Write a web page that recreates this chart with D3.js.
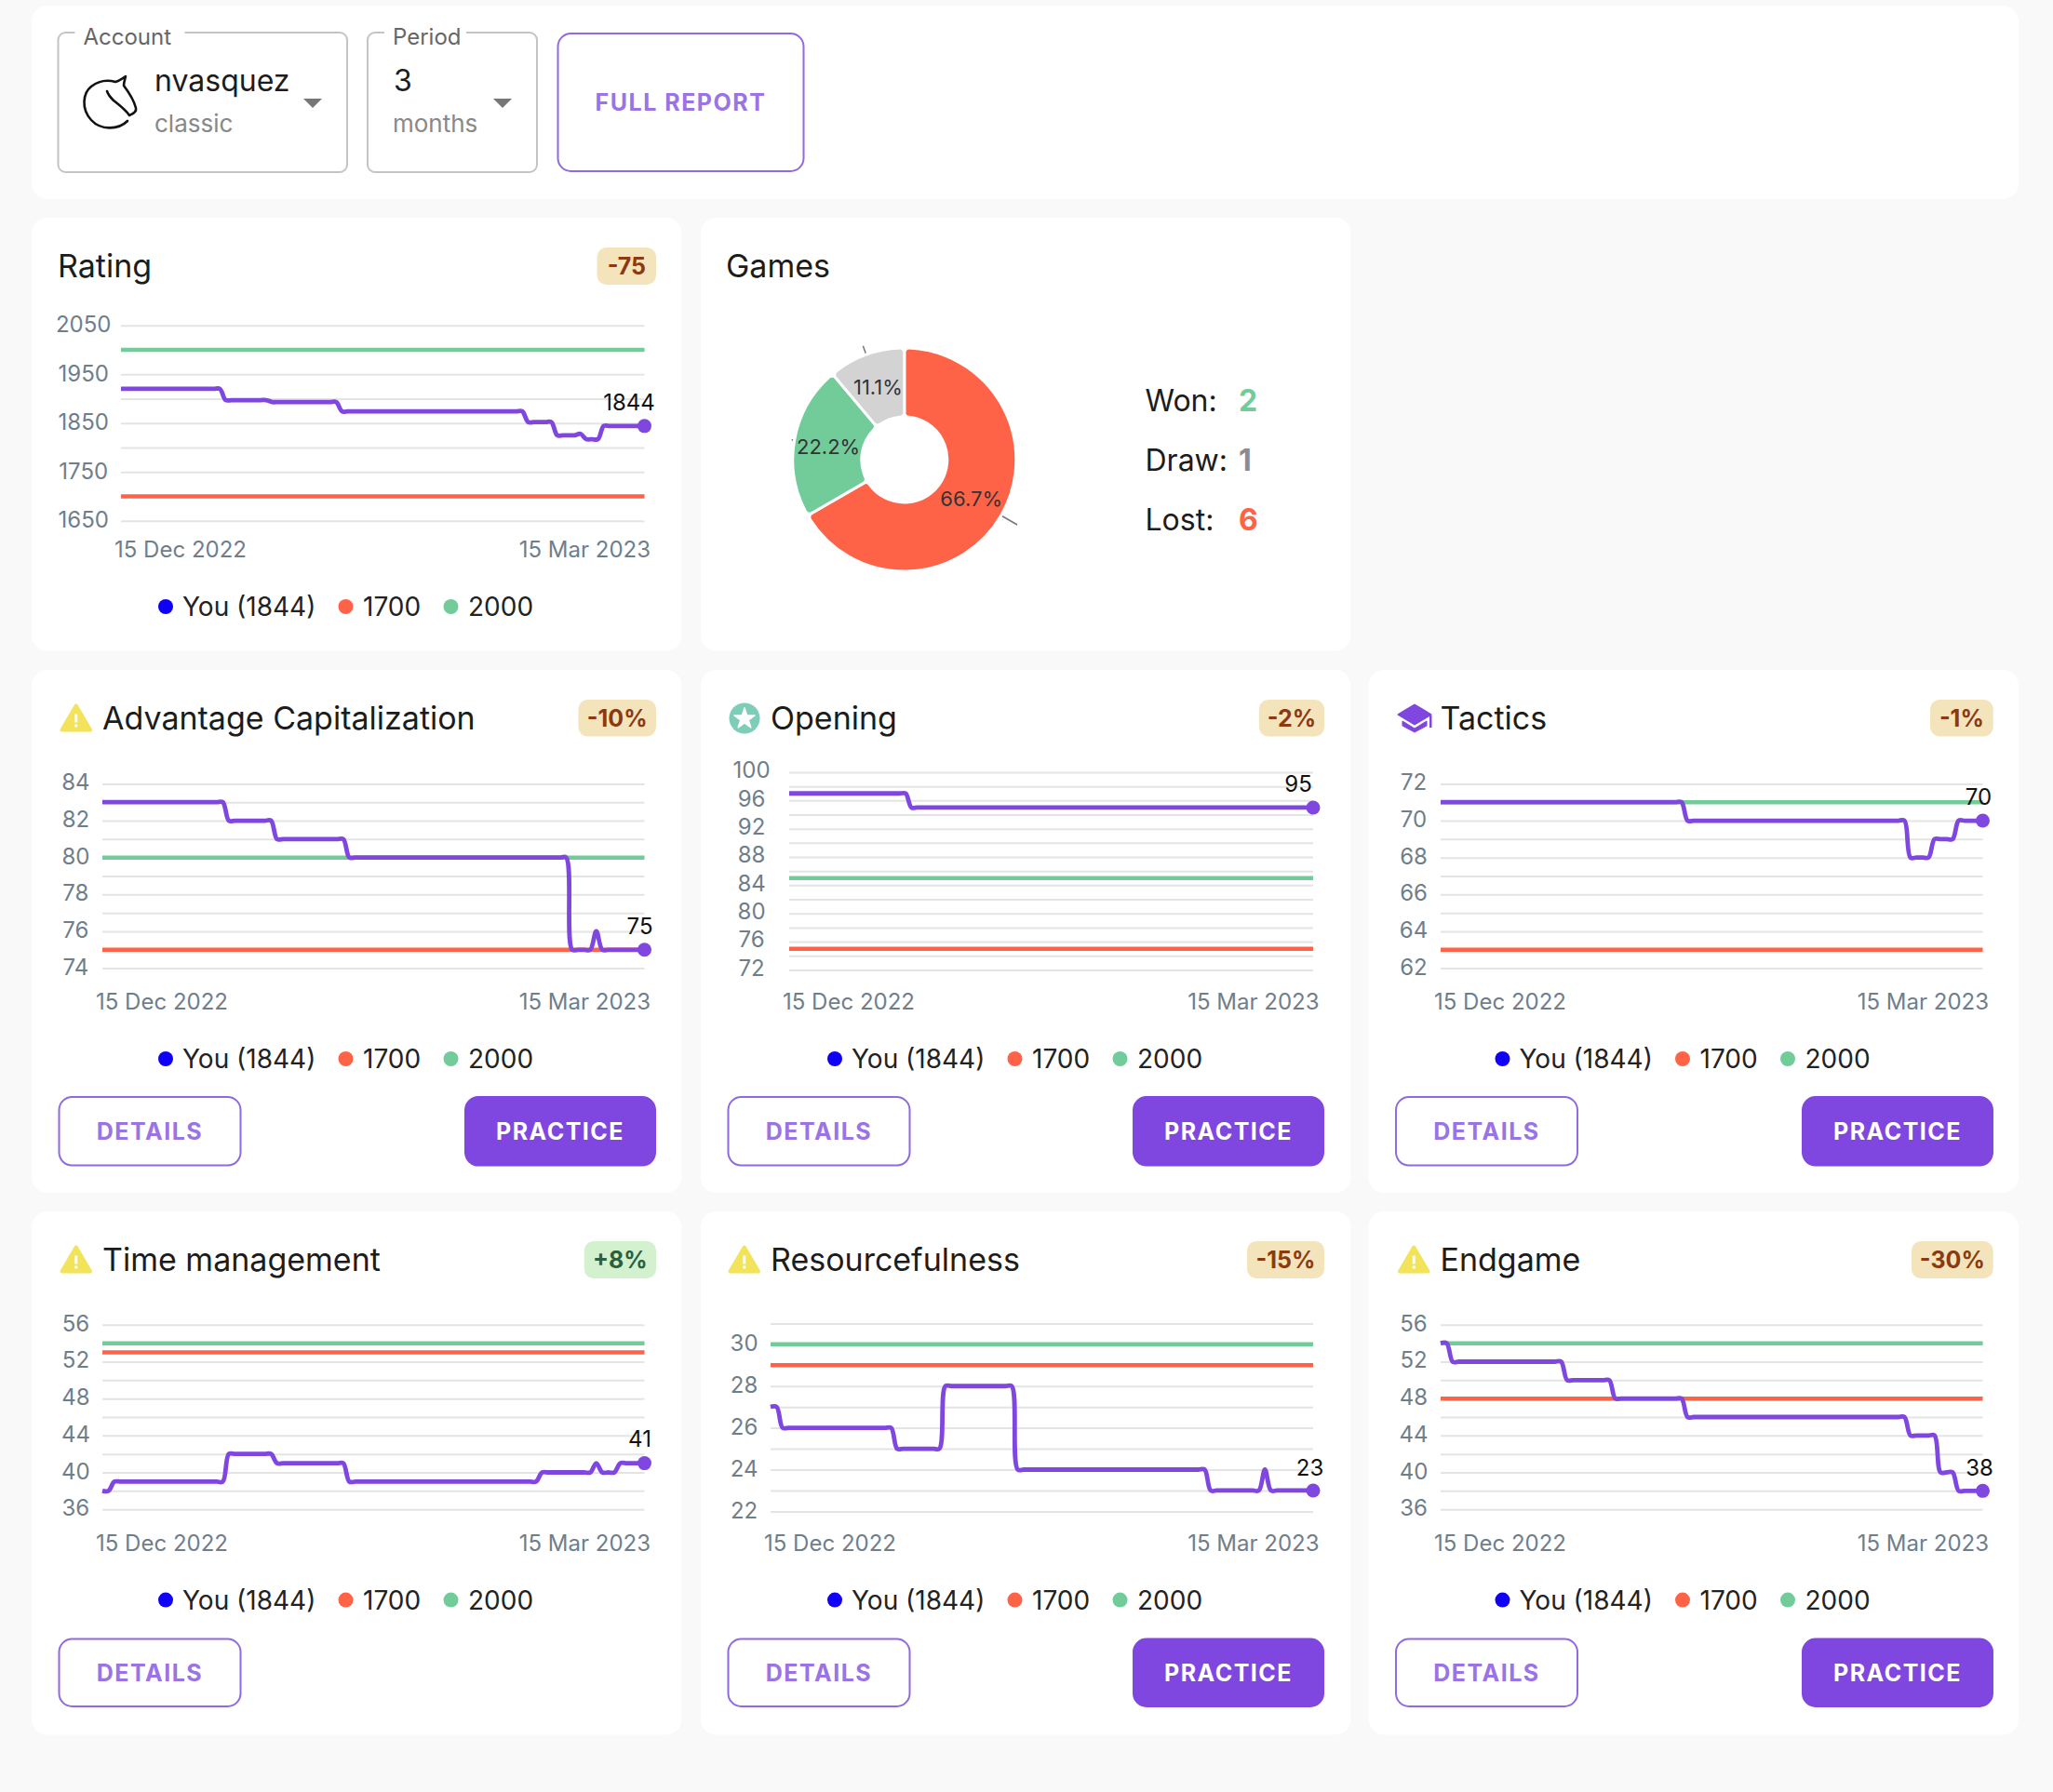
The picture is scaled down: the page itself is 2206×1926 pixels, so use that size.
<!DOCTYPE html>
<html><head><meta charset="utf-8">
<script src="https://cdn.jsdelivr.net/npm/d3@7/dist/d3.min.js"></script>
<style>
html,body{margin:0;padding:0;background:#f9f9f9}
svg{display:block}
text{font-family:Inter,"Noto Sans",sans-serif}
</style></head><body><svg id="c" width="2206" height="1926"></svg>
<script>
// ---------- data ----------
const startDate = "2022-12-15";
const endDate = "2023-03-15";
const ratingValues = [
1920,1920,1920,1920,1920,1920,1920,1920,1920,1920,
1920,1920,1920,1920,1920,1920,1920,1920,1897,1897,
1897,1897,1897,1897,1897,1897,1893,1893,1893,1893,
1893,1893,1893,1893,1893,1893,1893,1893,1874,1874,
1874,1874,1874,1874,1874,1874,1874,1874,1874,1874,
1874,1874,1874,1874,1874,1874,1874,1874,1874,1874,
1874,1874,1874,1874,1874,1874,1874,1874,1874,1874,
1852,1852,1852,1852,1852,1825,1825,1825,1825,1828,
1817,1817,1817,1844,1844,1844,1844,1844,1844,1844,
1844];
const advantageValues = [
83,83,83,83,83,83,83,83,83,83,
83,83,83,83,83,83,83,83,83,83,
83,82,82,82,82,82,82,82,82,81,
81,81,81,81,81,81,81,81,81,81,
81,80,80,80,80,80,80,80,80,80,
80,80,80,80,80,80,80,80,80,80,
80,80,80,80,80,80,80,80,80,80,
80,80,80,80,80,80,80,80,75,75,
75,75,76,75,75,75,75,75,75,75,
75];
const openingValues = [
97,97,97,97,97,97,97,97,97,97,
97,97,97,97,97,97,97,97,97,97,
97,95,95,95,95,95,95,95,95,95,
95,95,95,95,95,95,95,95,95,95,
95,95,95,95,95,95,95,95,95,95,
95,95,95,95,95,95,95,95,95,95,
95,95,95,95,95,95,95,95,95,95,
95,95,95,95,95,95,95,95,95,95,
95,95,95,95,95,95,95,95,95,95,
95];
const tacticsValues = [
71,71,71,71,71,71,71,71,71,71,
71,71,71,71,71,71,71,71,71,71,
71,71,71,71,71,71,71,71,71,71,
71,71,71,71,71,71,71,71,71,71,
71,70,70,70,70,70,70,70,70,70,
70,70,70,70,70,70,70,70,70,70,
70,70,70,70,70,70,70,70,70,70,
70,70,70,70,70,70,70,70,68,68,
68,68,69,69,69,69,70,70,70,70,
70];
const timeValues = [
38,38,39,39,39,39,39,39,39,39,
39,39,39,39,39,39,39,39,39,39,
39,42,42,42,42,42,42,42,42,41,
41,41,41,41,41,41,41,41,41,41,
41,39,39,39,39,39,39,39,39,39,
39,39,39,39,39,39,39,39,39,39,
39,39,39,39,39,39,39,39,39,39,
39,39,39,40,40,40,40,40,40,40,
40,40,41,40,40,40,41,41,41,41,
41];
const resourceValues = [
27,27,26,26,26,26,26,26,26,26,
26,26,26,26,26,26,26,26,26,26,
26,25,25,25,25,25,25,25,25,28,
28,28,28,28,28,28,28,28,28,28,
28,24,24,24,24,24,24,24,24,24,
24,24,24,24,24,24,24,24,24,24,
24,24,24,24,24,24,24,24,24,24,
24,24,24,23,23,23,23,23,23,23,
23,23,24,23,23,23,23,23,23,23,
23];
const endgameValues = [
54,54,52,52,52,52,52,52,52,52,
52,52,52,52,52,52,52,52,52,52,
52,50,50,50,50,50,50,50,50,48,
48,48,48,48,48,48,48,48,48,48,
48,46,46,46,46,46,46,46,46,46,
46,46,46,46,46,46,46,46,46,46,
46,46,46,46,46,46,46,46,46,46,
46,46,46,46,46,46,46,46,44,44,
44,44,44,40,40,40,38,38,38,38,
38];
const panelTitles = ["Rating","Advantage Capitalization","Opening","Tactics","Time management","Resourcefulness","Endgame"];
const panelBadges = ["-75","-10%","-2%","-1%","+8%","-15%","-30%"];
const red1700 = [1700,75,75,63,53,29,48];
const green2000 = [2000,80,85,71,54,30,54];
const gridTicks = [
 [2050,2000,1950,1900,1850,1800,1750,1700,1650],
 [84,83,82,81,80,79,78,77,76,75,74],
 [100,98,96,94,92,90,88,86,84,82,80,78,76,74,72],
 [72,71,70,69,68,67,66,65,64,63,62],
 [56,54,52,50,48,46,44,42,40,38,36],
 [31,30,29,28,27,26,25,24,23,22],
 [56,54,52,50,48,46,44,42,40,38,36]];
const labelTicks = [
 [2050,1950,1850,1750,1650],
 [84,82,80,78,76,74],
 [100,96,92,88,84,80,76,72],
 [72,70,68,66,64,62],
 [56,52,48,44,40,36],
 [30,28,26,24,22],
 [56,52,48,44,40,36]];
const legendLabels = ["You (1844)","1700","2000"];
const gameLabels = ["Lost","Won","Draw"];
const gameCounts = [6,2,1];
const summaryLabels = ["Won:","Draw:","Lost:"];
const summaryCounts = [2,1,6];

// ---------- styles / layout ----------
const PURPLE="#7f47df", LIGHT="#9a73e5", RED="#ff6347", GREEN="#72cc9a", GREY="#d3d3d3";
const legendColors=["#1000f5",RED,GREEN];
const seriesByPanel=[ratingValues,advantageValues,openingValues,tacticsValues,timeValues,resourceValues,endgameValues];
const cols=[34,753,1470.5], cardW=698.5;
const practiceX=[[499,705],[1217,1423],[1936,2142]];
const layout=[
 {card:[0,234,465.5],l:130,r:692.5,t:349.7,b:559.7,lx:40.3,ax:590,leg:652,shift:16.5,icon:null,tx:62,base:298,badgeX:641.6,badgeY:266,badgeH:40,drop:26,ly:0},
 {card:[0,720,562],l:110,r:692.5,t:842.4,b:1040.6,lx:28.6,ax:1076,leg:1138,shift:5,icon:"warn",tx:110,base:783.5,badgeX:621.4,badgeY:752,badgeH:39.5,btn:[1178,1253.6],practice:true,drop:25,ly:-0.5},
 {card:[1,720,562],l:848,r:1411,t:830,b:1042.4,lx:40.4,ax:1076,leg:1138,shift:16,icon:"star",tx:828,base:783.5,badgeX:1352.8,badgeY:752,badgeH:39.5,btn:[1178,1253.6],practice:true,drop:25.5,ly:-1.2},
 {card:[2,720,562],l:1548,r:2130.5,t:842.4,b:1040.6,lx:29,ax:1076,leg:1138,shift:4.5,icon:"cap",tx:1547.5,base:783.5,badgeX:2074,badgeY:752,badgeH:39.5,btn:[1178,1253.6],practice:true,drop:26,ly:-0.5},
 {card:[0,1302,562.5],l:110,r:692.5,t:1423.8,b:1622.2,lx:28.6,ax:1658,leg:1719.6,shift:5,icon:"warn",tx:110,base:1365.5,badgeX:627.8,badgeY:1334,badgeH:40,btn:[1760.5,1835],practice:false,drop:26,ly:-0.5},
 {card:[1,1302,562.5],l:828,r:1411,t:1422.4,b:1624.4,lx:28.4,ax:1658,leg:1719.6,shift:3.5,icon:"warn",tx:828,base:1365.5,badgeX:1340,badgeY:1334,badgeH:40,btn:[1760.5,1835],practice:true,drop:25,ly:0},
 {card:[2,1302,562.5],l:1548,r:2130.5,t:1423.8,b:1622.2,lx:29,ax:1658,leg:1719.6,shift:3.5,icon:"warn",tx:1547.5,base:1365.5,badgeX:2054,badgeY:1334,badgeH:40,btn:[1760.5,1835],practice:true,drop:25,ly:-0.5}
];
const svg=d3.select("#c");
const parse=d3.utcParse("%Y-%m-%d");
const fmt=d3.utcFormat("%-d %b %Y");
const dates=ratingValues.map((_,i)=>d3.utcDay.offset(parse(startDate),i));

function T(g,s,x,y,size,fill,opt={}){
  return g.append("text").attr("x",x).attr("y",y).attr("font-size",size).attr("fill",fill)
   .attr("font-weight",opt.w||400).attr("text-anchor",opt.a||"start")
   .attr("letter-spacing",opt.ls||0).text(s);
}
function card(x,y,w,h){svg.append("rect").attr("x",x).attr("y",y).attr("width",w).attr("height",h).attr("rx",17).attr("fill","#fff");}
function button(x0,x1,y0,y1,label,solid,size){
  svg.append("rect").attr("x",x0+1).attr("y",y0+1).attr("width",x1-x0-2).attr("height",y1-y0-2).attr("rx",14)
   .attr("fill",solid?PURPLE:"#fff").attr("stroke",solid?PURPLE:"#8f6ae0").attr("stroke-width",2);
  T(svg,label,(x0+x1)/2,(y0+y1)/2+9,size||25,solid?"#fff":LIGHT,{w:700,a:"middle",ls:1.5});
}
function warn(x0,x1,y0,y1){
  const g=svg.append("g");
  const m=(x0+x1)/2;
  g.append("path").attr("d",`M${m},${y0+2}L${x1-2},${y1-2}L${x0+2},${y1-2}Z`).attr("fill","#f2e35a").attr("stroke","#f2e35a").attr("stroke-width",4).attr("stroke-linejoin","round");
  g.append("rect").attr("x",m-1.5).attr("y",y0+11).attr("width",3).attr("height",9).attr("fill","#fff").attr("opacity",.9);
  g.append("rect").attr("x",m-1.5).attr("y",y0+22).attr("width",3).attr("height",3).attr("fill","#fff").attr("opacity",.9);
}
function star(cx,cy){
  svg.append("ellipse").attr("cx",cx).attr("cy",cy).attr("rx",16.5).attr("ry",16.5).attr("fill","#7ecdb9");
  svg.append("path").attr("transform",`translate(${cx},${cy+.5})`).attr("d",d3.symbol(d3.symbolStar,150)()).attr("fill","#fff").attr("stroke","#fff").attr("stroke-width",1.5).attr("stroke-linejoin","round");
}
function cap(){
  svg.append("path").attr("d","M1520,757.5 L1537.5,768 L1520,778.5 L1502.5,768 Z").attr("fill",PURPLE).attr("stroke",PURPLE).attr("stroke-width",2).attr("stroke-linejoin","round");
  svg.append("path").attr("d","M1507,775 L1520,783 L1533,775 L1533,780 L1520,787 L1507,780 Z").attr("fill",PURPLE).attr("stroke",PURPLE).attr("stroke-linejoin","round");
  svg.append("rect").attr("x",1536).attr("y",769).attr("width",2.5).attr("height",13).attr("fill",PURPLE);
}

// ---------- top card ----------
card(34,6,2135,208);
function selectBox(x0,x1,label,labelW){
  svg.append("rect").attr("x",x0).attr("y",35).attr("width",x1-x0).attr("height",150).attr("rx",8).attr("fill","#fff").attr("stroke","#c4c4c4").attr("stroke-width",2);
  svg.append("rect").attr("x",x0+18).attr("y",30).attr("width",labelW).attr("height",10).attr("fill","#fff");
  T(svg,label,x0+27,48,24,"#666");
}
selectBox(62.5,373,"Account",118);
selectBox(395,577,"Period",88);
T(svg,"nvasquez",166,98,32,"#1c1c1c");
T(svg,"classic",166,142,26,"#888");
T(svg,"3",423,98,32,"#1c1c1c");
T(svg,"months",422,142,26,"#888");
[[336],[540]].forEach(([cx])=>svg.append("path").attr("d",`M${cx-10},106L${cx+10},106L${cx},116Z`).attr("fill","#777"));
svg.append("path").attr("d","M137,130 C127,140 108,140 98,129 C87,117 89,100 98,93 C107,86 117,86 124,88 C128,87 131,85 135,82 C134,86 133,89 133,92 C139,100 144,108 146,116 C147,120 144,122 139,124 C135,118 127,112 122,108 C118,104 116,101 115,98")
  .attr("fill","none").attr("stroke","#111").attr("stroke-width",2.6).attr("stroke-linejoin","round").attr("stroke-linecap","round");
button(598.5,864.5,35,185,"FULL REPORT",false,25);

// ---------- games card ----------
card(753,234,698.5,465.5);
T(svg,"Games",780,298,34,"#1c1c1c");
const pieC=[971.8,494], R=120, r0=46;
const pie=d3.pie().sort(null).value(d=>d);
const arcGen=d3.arc().innerRadius(r0).outerRadius(R).cornerRadius(5);
const gamesG=svg.append("g").attr("transform",`translate(${pieC})`);
const slices=pie(gameCounts);
const sliceColors=[RED,GREEN,GREY];
const leaderLen=[20,3,10];
slices.forEach((s,i)=>{
  const a=(s.startAngle+s.endAngle)/2;
  gamesG.append("line").attr("x1",Math.sin(a)*R).attr("y1",-Math.cos(a)*R)
   .attr("x2",Math.sin(a)*(R+leaderLen[i])).attr("y2",-Math.cos(a)*(R+leaderLen[i]))
   .attr("stroke","#777").attr("stroke-width",1.5);
});
gamesG.selectAll("path.s").data(slices).join("path").attr("class","s").attr("d",arcGen)
  .attr("fill",(d,i)=>sliceColors[i]).attr("stroke","#fff").attr("stroke-width",3);
slices.forEach(s=>{
  const [x,y]=d3.arc().innerRadius(r0).outerRadius(R).centroid(s);
  T(gamesG,(s.value/d3.sum(gameCounts)*100).toFixed(1)+"%",x,y+8,22,"#333",{a:"middle"});
});
const sumCol=[GREEN,"#8c8c8c",RED];
summaryLabels.forEach((s,i)=>{
  const y=442+64*i;
  T(svg,s,1230.5,y,32,"#1c1c1c");
  T(svg,summaryCounts[i],1331,y,32,sumCol[i],{w:700});
});

// ---------- chart cards ----------
const lineCurve=d3.curveCatmullRom.alpha(0.5);
layout.forEach((L,i)=>{
  const cx=cols[L.card[0]];
  card(cx,L.card[1],cardW,L.card[2]);
  // title and icon
  T(svg,panelTitles[i],L.tx,L.base,34,"#1c1c1c");
  if(L.icon==="warn"){const x0=L.tx-45.5;warn(x0,x0+34.5,L.base-27,L.base+3);}
  if(L.icon==="star")star(800,772);
  if(L.icon==="cap")cap();
  // badge
  const neg=panelBadges[i][0]==="-";
  const bx1=[705,1423,2141.7][L.card[0]];
  svg.append("rect").attr("x",L.badgeX).attr("y",L.badgeY).attr("width",bx1-L.badgeX).attr("height",L.badgeH).attr("rx",10).attr("fill",neg?"#f4e4bc":"#d3f0cf");
  T(svg,panelBadges[i],(L.badgeX+bx1)/2,L.badgeY+L.badgeH/2+9,25,neg?"#8a3a12":"#2a6040",{w:700,a:"middle"});
  // scales
  const grid=gridTicks[i], labels=labelTicks[i];
  const x=d3.scaleUtc().domain([parse(startDate),parse(endDate)]).range([L.l,L.r]);
  const y=d3.scaleLinear().domain([d3.min(grid),d3.max(grid)]).range([L.b,L.t]);
  // grid via axis
  const gridG=svg.append("g").attr("transform",`translate(${L.l},0)`)
    .call(d3.axisLeft(y).tickValues(grid).tickSize(-(L.r-L.l)).tickFormat(""));
  gridG.select(".domain").remove();
  gridG.selectAll("line").attr("stroke","#e4e4e4").attr("stroke-width",2);
  // y labels via axis
  const yG=svg.append("g").attr("transform",`translate(${L.l-L.lx},${L.ly})`)
    .call(d3.axisLeft(y).tickValues(labels).tickSize(0).tickPadding(0).tickFormat(d3.format("d")));
  yG.select(".domain").remove();
  yG.selectAll("text").attr("x",0).attr("dy",7).attr("font-size",24).attr("font-family","Inter").attr("fill","#6f7e8b").attr("text-anchor","middle");
  // x labels via axis
  const xG=svg.append("g").attr("transform",`translate(0,${L.ax})`)
    .call(d3.axisBottom(x).tickValues([parse(startDate),parse(endDate)]).tickSize(0).tickPadding(0).tickFormat(fmt));
  xG.select(".domain").remove();
  xG.selectAll("text").attr("y",0).attr("dy",8.5).attr("font-size",24).attr("font-family","Inter").attr("fill","#6f7e8b")
    .attr("text-anchor",(d,k)=>k?"end":"start").attr("dx",(d,k)=>k?6:-7.5);
  // reference series
  const ln=d3.line().x(d=>x(d[0])).y(d=>y(d[1]));
  [[green2000[i],GREEN],[red1700[i],RED]].forEach(([v,c])=>{
    svg.append("path").attr("d",ln(dates.map(d=>[d,v]))).attr("fill","none").attr("stroke",c).attr("stroke-width",4.5);
  });
  // you
  const vals=seriesByPanel[i];
  const pts=vals.map((v,k)=>[dates[k],v]);
  svg.append("path").attr("d",ln.curve(lineCurve)(pts)).attr("fill","none").attr("stroke",PURPLE).attr("stroke-width",4.8);
  const last=pts[pts.length-1];
  svg.append("circle").attr("cx",x(last[0])).attr("cy",y(last[1])).attr("r",7.5).attr("fill",PURPLE);
  T(svg,last[1],x(last[0])-L.shift,y(last[1])-L.drop+8.7,24,"#111",{a:"middle"});
  // legend
  const dotX=[144,337.5,450.5], txtX=[162,356,469];
  legendLabels.forEach((s,k)=>{
    svg.append("circle").attr("cx",cx+dotX[k]).attr("cy",L.leg).attr("r",8).attr("fill",legendColors[k]);
    T(svg,s,cx+txtX[k],L.leg+10,28,"#222");
  });
  // buttons
  if(L.btn){
    button(cx+28.5,cx+225.5,L.btn[0],L.btn[1],"DETAILS",false);
    if(L.practice)button(practiceX[L.card[0]][0],practiceX[L.card[0]][1],L.btn[0],L.btn[1],"PRACTICE",true);
  }
});
</script></body></html>
